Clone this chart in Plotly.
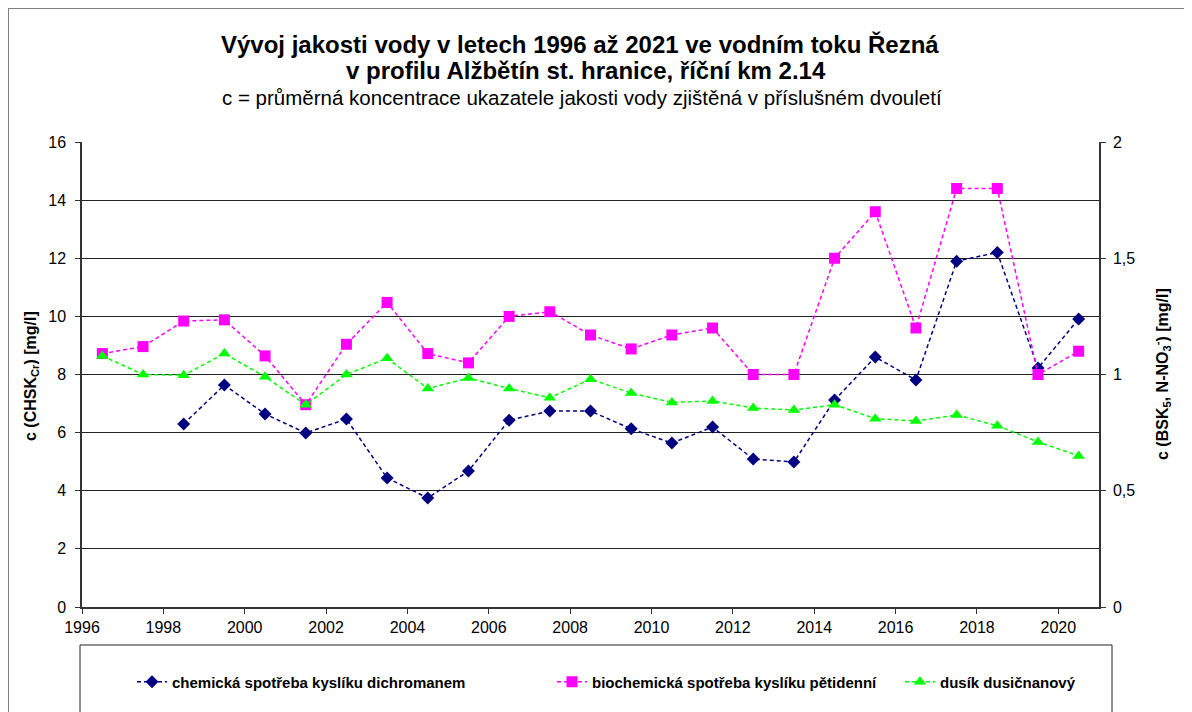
import plotly.graph_objects as go

years = [1996.5 + i for i in range(25)]

# chemická spotřeba kyslíku dichromanem (left axis, mg/l)
chsk = [None, None, 6.3, 7.64, 6.64, 5.99, 6.47, 4.44, 3.75, 4.68, 6.43, 6.74, 6.74,
        6.13, 5.64, 6.19, 5.09, 4.99, 7.12, 8.6, 7.81, 11.9, 12.2, 8.22, 9.91]

# biochemická spotřeba kyslíku pětidenní (right axis, mg/l)
bsk5 = [1.09, 1.12, 1.23, 1.235, 1.08, 0.87, 1.13, 1.31, 1.09, 1.05, 1.25, 1.27, 1.17,
        1.11, 1.17, 1.2, 1.0, 1.0, 1.5, 1.7, 1.2, 1.8, 1.8, 1.0, 1.1]

# dusík dusičnanový (right axis, mg/l)
no3 = [1.08, 1.0, 0.997, 1.09, 0.99, 0.87, 1.0, 1.07, 0.94, 0.985, 0.94, 0.9, 0.98,
       0.92, 0.88, 0.886, 0.856, 0.847, 0.87, 0.81, 0.80, 0.826, 0.78, 0.71, 0.65]

names = ["chemická spotřeba kyslíku dichromanem",
         "biochemická spotřeba kyslíku pětidenní",
         "dusík dusičnanový"]

left_ticks = [0, 2, 4, 6, 8, 10, 12, 14, 16]
right_tickvals = [0, 0.5, 1, 1.5, 2]
right_ticktext = ["0", "0,5", "1", "1,5", "2"]
x_ticks = list(range(1996, 2021, 2))

FONT = "Liberation Sans, Arial, sans-serif"
DASH = "4px,3px"

fig = go.Figure()
fig.add_trace(go.Scatter(
    x=years, y=chsk, name=names[0], mode="lines+markers", yaxis="y",
    line=dict(color="#000080", width=1.5, dash=DASH),
    marker=dict(symbol="diamond", size=10, color="#000080"),
    legend="legend"))
fig.add_trace(go.Scatter(
    x=years, y=bsk5, name=names[1], mode="lines+markers", yaxis="y2",
    line=dict(color="#FF00FF", width=1.5, dash=DASH),
    marker=dict(symbol="square", size=11, color="#FF00FF"),
    legend="legend2"))
fig.add_trace(go.Scatter(
    x=years, y=no3, name=names[2], mode="lines+markers", yaxis="y2",
    line=dict(color="#00FF00", width=1.5, dash=DASH),
    marker=dict(symbol="triangle-up", size=11, color="#00FF00"),
    legend="legend3"))

OFF = 8  # page body margin
L, R, T, B = 82, 1099, 142, 607   # plot area in page pixels
W, H = 1192 - OFF, 712 - OFF
pw, ph = R - L, B - T


def px(xp):
    return (xp - L) / pw


def py(yp):
    return (B - yp) / ph


axis_col = "#333333"
legend_common = dict(orientation="h", bgcolor="rgba(0,0,0,0)",
                     font=dict(family=FONT, size=15, color="black", weight="bold"),
                     yanchor="middle", xanchor="left")

fig.update_layout(
    width=W, height=H,
    margin=dict(l=L - OFF, r=1192 - R, t=T - OFF, b=712 - B),
    paper_bgcolor="white", plot_bgcolor="white",
    font=dict(family=FONT, color="black"),
    showlegend=True,
    xaxis=dict(range=[1996, 2021], tickvals=x_ticks, showgrid=False, zeroline=False,
               showline=True, linecolor=axis_col, linewidth=1.5,
               ticks="outside", ticklen=5, tickcolor=axis_col,
               tickfont=dict(size=16, family=FONT)),
    yaxis=dict(range=[0, 16], tickvals=left_ticks, showgrid=True, gridcolor="#222222",
               gridwidth=1, zeroline=False, showline=True, linecolor=axis_col, linewidth=1.5,
               ticks="outside", ticklen=5, tickcolor=axis_col, ticklabelstandoff=6,
               tickfont=dict(size=16, family=FONT)),
    yaxis2=dict(range=[0, 2], overlaying="y", side="right", tickvals=right_tickvals,
                ticktext=right_ticktext, showgrid=False, zeroline=False, showline=True,
                linecolor=axis_col, linewidth=1.5, ticks="outside", ticklen=5,
                tickcolor=axis_col, ticklabelstandoff=4,
                tickfont=dict(size=16, family=FONT)),
    legend=dict(x=px(132), y=py(682), **legend_common),
    legend2=dict(x=px(552), y=py(682), **legend_common),
    legend3=dict(x=px(900), y=py(682), **legend_common),
)

# outer chart border and legend box
fig.add_shape(type="rect", xref="paper", yref="paper",
              x0=px(8), x1=px(1185), y0=py(740), y1=py(8),
              line=dict(color="#808080", width=2), layer="below")
fig.add_shape(type="rect", xref="paper", yref="paper",
              x0=px(80), x1=px(1112), y0=py(740), y1=py(645),
              line=dict(color="#222222", width=1), layer="below")

# titles
fig.add_annotation(text="<b>Vývoj jakosti vody v letech 1996 až 2021 ve vodním toku Řezná</b>",
                   xref="paper", yref="paper", x=px(580), y=py(44), showarrow=False,
                   font=dict(size=24, family=FONT), xanchor="center", yanchor="middle")
fig.add_annotation(text="<b>v profilu Alžbětín st. hranice, říční km 2.14</b>",
                   xref="paper", yref="paper", x=px(586), y=py(70), showarrow=False,
                   font=dict(size=24, family=FONT), xanchor="center", yanchor="middle")
fig.add_annotation(text="c = průměrná koncentrace ukazatele jakosti vody zjištěná v příslušném dvouletí",
                   xref="paper", yref="paper", x=px(582), y=py(97), showarrow=False,
                   font=dict(size=20.5, family=FONT), xanchor="center", yanchor="middle")

# axis titles
fig.add_annotation(text="<b>c (CHSK<sub>Cr</sub>) [mg/l]</b>", textangle=-90,
                   xref="paper", yref="paper", x=px(31), y=py(376), showarrow=False,
                   font=dict(size=16, family=FONT), xanchor="center", yanchor="middle")
fig.add_annotation(text="<b>c (BSK<sub>5</sub>, N-NO<sub>3</sub><sup>-</sup>) [mg/l]</b>",
                   textangle=-90, xref="paper", yref="paper", x=px(1162), y=py(374),
                   showarrow=False, font=dict(size=16, family=FONT),
                   xanchor="center", yanchor="middle")

fig.write_html("out.html")
